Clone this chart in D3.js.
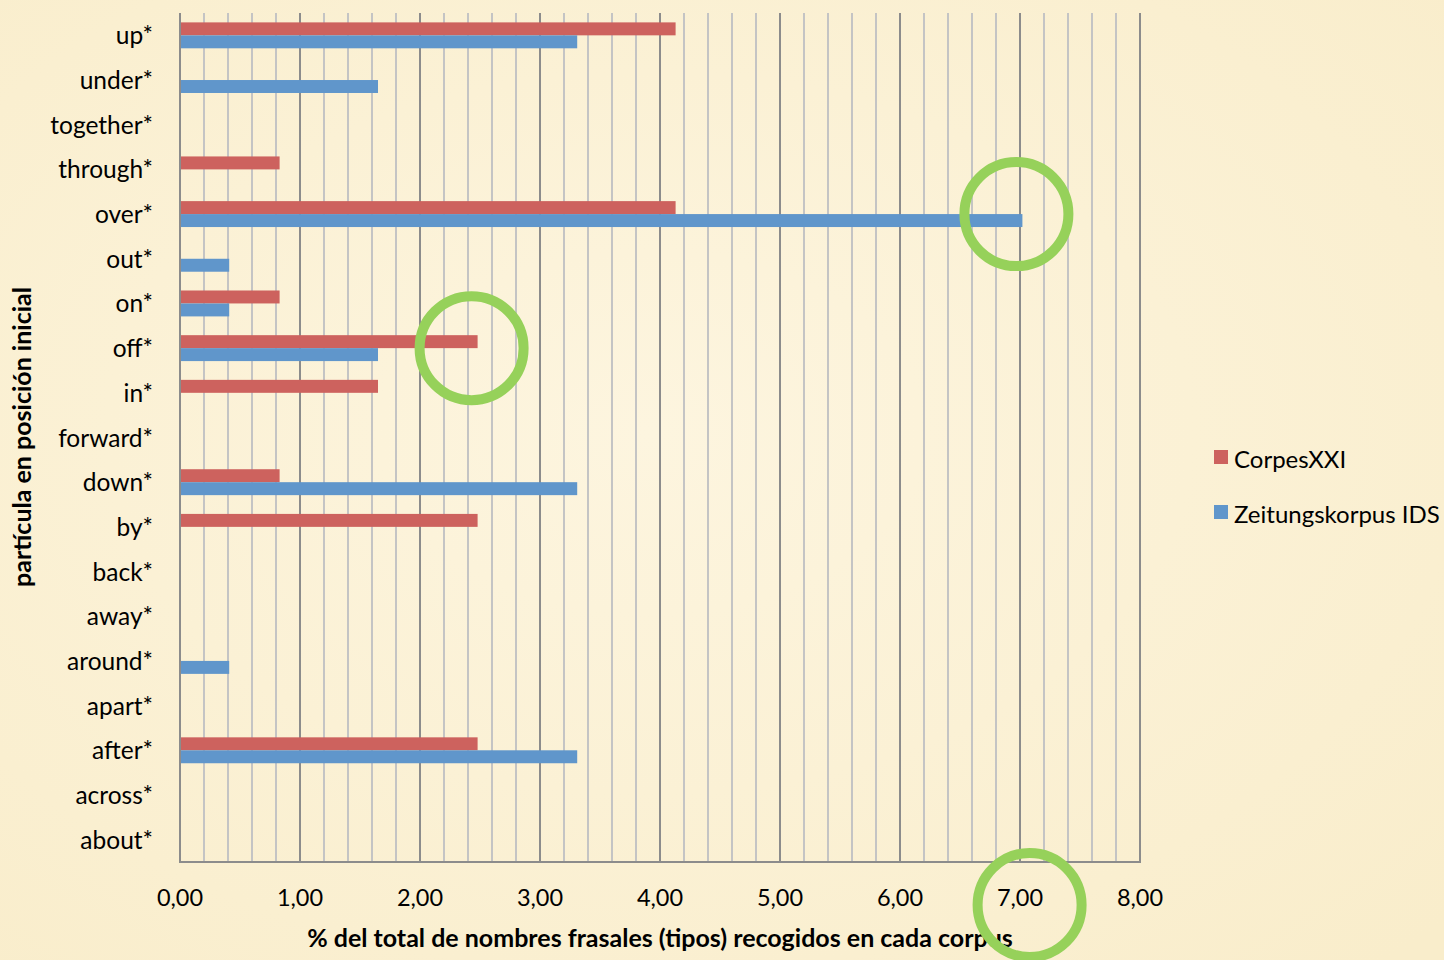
<!DOCTYPE html>
<html><head><meta charset="utf-8">
<script src="https://cdn.jsdelivr.net/npm/d3@7"></script>
<style>
html,body{margin:0;padding:0;background:#FBF1D6;}
svg{display:block;}
</style></head>
<body>
<script>
const categories = ["up*","under*","together*","through*","over*","out*","on*","off*","in*","forward*","down*","by*","back*","away*","around*","apart*","after*","across*","about*"];
const corpesXXI = [4.13,0,0,0.83,4.13,0,0.83,2.48,1.65,0,0.83,2.48,0,0,0,0,2.48,0,0];
const zeitungskorpus = [3.31,1.65,0,0,7.02,0.41,0.41,1.65,0,0,3.31,0,0,0,0.41,0,3.31,0,0];
const seriesNames = ["CorpesXXI","Zeitungskorpus IDS"];
const xTicks = [0,1,2,3,4,5,6,7,8];
const annotations = [{x:6.97, cat:"over*"},{x:2.43, cat:"off*"},{x:7.08, cat:null}];

const W=1444,H=960;
const font="Lato, 'Open Sans', sans-serif";
const svg=d3.select("body").append("svg").attr("width",W).attr("height",H);

// background
const defs=svg.append("defs");
const rg=defs.append("radialGradient").attr("id","bg").attr("cx","45%").attr("cy","45%").attr("r","75%");
rg.append("stop").attr("offset","0%").attr("stop-color","#FDF5DF");
rg.append("stop").attr("offset","100%").attr("stop-color","#F9EDCB");
svg.append("rect").attr("width",W).attr("height",H).attr("fill","url(#bg)");

const m={l:180,r:1140,t:13,b:862};
const x=d3.scaleLinear().domain([0,8]).range([m.l,m.r]);
const y=d3.scaleBand().domain(categories).range([m.t,m.b]).paddingInner(0.42).paddingOuter(0.21);
const sub=d3.scaleBand().domain(seriesNames).range([0,y.bandwidth()]);
const colors={"CorpesXXI":"#CD625E","Zeitungskorpus IDS":"#6096CB"};

// grid
const minor=d3.range(0,8.001,0.2).filter(v=>Math.abs(v-Math.round(v))>1e-6);
svg.append("g").selectAll("line").data(minor).join("line")
  .attr("x1",d=>x(d)).attr("x2",d=>x(d)).attr("y1",m.t).attr("y2",m.b)
  .attr("stroke","#C4C4C4").attr("stroke-width",2);
svg.append("g").selectAll("line").data(xTicks.slice(1)).join("line")
  .attr("x1",d=>x(d)).attr("x2",d=>x(d)).attr("y1",m.t).attr("y2",m.b)
  .attr("stroke","#8C8C8C").attr("stroke-width",2);

// bars
const data=[];
categories.forEach((c,i)=>{
  data.push({cat:c,s:"CorpesXXI",v:corpesXXI[i]});
  data.push({cat:c,s:"Zeitungskorpus IDS",v:zeitungskorpus[i]});
});
svg.append("g").selectAll("rect").data(data.filter(d=>d.v>0)).join("rect")
  .attr("x",x(0)).attr("y",d=>y(d.cat)+sub(d.s))
  .attr("width",d=>x(d.v)-x(0)).attr("height",sub.bandwidth())
  .attr("fill",d=>colors[d.s]);

// axes lines
svg.append("line").attr("x1",x(0)).attr("x2",x(0)).attr("y1",m.t).attr("y2",m.b).attr("stroke","#8C8C8C").attr("stroke-width",2);
svg.append("line").attr("x1",x(0)-1).attr("x2",x(8)+1).attr("y1",m.b).attr("y2",m.b).attr("stroke","#8C8C8C").attr("stroke-width",2);

// x tick labels
const fmt=v=>d3.format(".2f")(v).replace(".",",");
svg.append("g").selectAll("text").data(xTicks).join("text")
  .attr("x",d=>x(d)).attr("y",906).attr("text-anchor","middle")
  .attr("font-family",font).attr("font-size",23.5).attr("fill","#000").text(fmt);

// y labels
svg.append("g").selectAll("text").data(categories).join("text")
  .attr("x",153).attr("y",d=>y(d)+y.bandwidth()/2+9).attr("text-anchor","end")
  .attr("font-family",font).attr("font-size",24.5).attr("fill","#000").text(d=>d);

// axis titles
svg.append("text").attr("x",660).attr("y",947).attr("text-anchor","middle")
  .attr("font-family",font).attr("font-weight","bold").attr("font-size",25).attr("fill","#000")
  .text("% del total de nombres frasales (tipos) recogidos en cada corpus");
svg.append("text").attr("transform","translate(31,437) rotate(-90)").attr("text-anchor","middle")
  .attr("font-family",font).attr("font-weight","bold").attr("font-size",25).attr("fill","#000")
  .text("partícula en posición inicial");

// legend
const lg=svg.append("g");
seriesNames.forEach((s,i)=>{
  const yy=458+i*55;
  lg.append("rect").attr("x",1214).attr("y",yy-8).attr("width",14).attr("height",14).attr("fill",colors[s]);
  lg.append("text").attr("x",1234).attr("y",yy+10).attr("font-family",font).attr("font-size",24).attr("fill","#000").text(s);
});

// annotation circles
svg.append("g").selectAll("circle").data(annotations).join("circle")
  .attr("cx",d=>x(d.x))
  .attr("cy",d=>d.cat? y(d.cat)+y.bandwidth()/2 : 905)
  .attr("r",52).attr("fill","none").attr("stroke","#96D15A").attr("stroke-width",10);
</script>
</body></html>
